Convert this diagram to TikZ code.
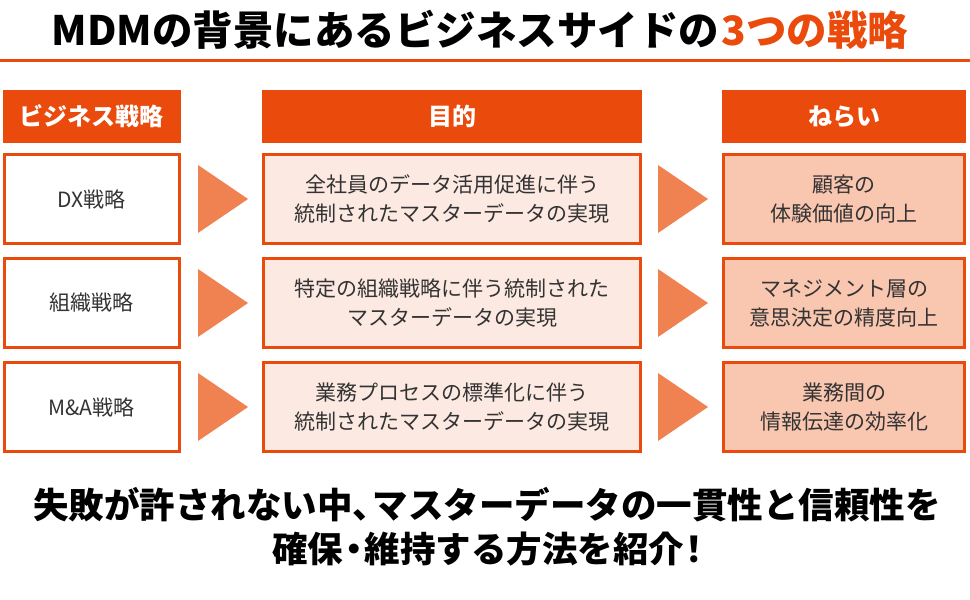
\documentclass[tikz,border=0pt]{standalone}
\usepackage{fontspec}
\setmainfont{Noto Sans CJK JP}
\definecolor{accent}{HTML}{EA4A0B}
\definecolor{tri}{HTML}{F08150}
\definecolor{pink1}{HTML}{FCE9E2}
\definecolor{pink2}{HTML}{F9C6B0}
\definecolor{txt}{HTML}{333333}
\tikzset{
  hdr/.style={fill=accent, draw=none, text=white, font=\bfseries\fontsize{24}{28}\selectfont, inner sep=0pt},
  cellbox/.style={draw=accent, line width=3pt, text=txt, align=center, font=\fontsize{21}{29}\selectfont, inner sep=0pt},
  arrowtri/.style={fill=tri, draw=none},
}
\begin{document}
\begin{tikzpicture}[x=1pt,y=-1pt]
\useasboundingbox (0,0) rectangle (970,600);
\fill[white] (0,0) rectangle (970,600);
% title
\node[font=\bfseries\fontsize{40.5}{44}\selectfont, inner sep=0pt] (title) at (480,30) {MDMの背景にあるビジネスサイドの\kern2pt\textcolor{accent}{3つの戦略}};
\draw[accent, line width=3pt] (0,60) coordinate (l1) -- (970,60) coordinate (l2);
% headers
\node[hdr, minimum width=178pt, minimum height=53pt] (h1) at (91.5,116.5) {ビジネス戦略};
\node[hdr, minimum width=380pt, minimum height=53pt] (h2) at (452,116.5) {目的};
\node[hdr, minimum width=244pt, minimum height=53pt] (h3) at (844,116.5) {ねらい};
% rows
\foreach \r/\y/\a/\b/\c in {
  1/199/{DX戦略}/{全社員のデータ活用促進に伴う\\統制されたマスターデータの実現}/{顧客の\\体験価値の向上},
  2/303/{組織戦略}/{特定の組織戦略に伴う統制された\\マスターデータの実現}/{マネジメント層の\\意思決定の精度向上},
  3/407/{M\&A戦略}/{業務プロセスの標準化に伴う\\統制されたマスターデータの実現}/{業務間の\\情報伝達の効率化}}{
  \node[cellbox, fill=white, minimum width=175pt, minimum height=89pt] (a\r) at (91.5,\y) {\a};
  \node[cellbox, fill=pink1, minimum width=377pt, minimum height=89pt] (b\r) at (452,\y) {\b};
  \node[cellbox, fill=pink2, minimum width=241pt, minimum height=89pt] (c\r) at (844,\y) {\c};
  \fill[arrowtri] (198,\y-34) -- (198,\y+34) -- (248,\y) -- cycle;
  \fill[arrowtri] (658,\y-34) -- (658,\y+34) -- (708,\y) -- cycle;
}
% bottom
\node[font=\bfseries\fontsize{35.5}{44}\selectfont, align=center, inner sep=0pt] (foot) at (487,527) {失敗が許されない中、\kern-0.45em マスターデータの一貫性と信頼性を\\確保\kern-0.2em・\kern-0.2em 維持する方法を紹介\kern-0.2em！\kern-0.3em};
\end{tikzpicture}
\end{document}
